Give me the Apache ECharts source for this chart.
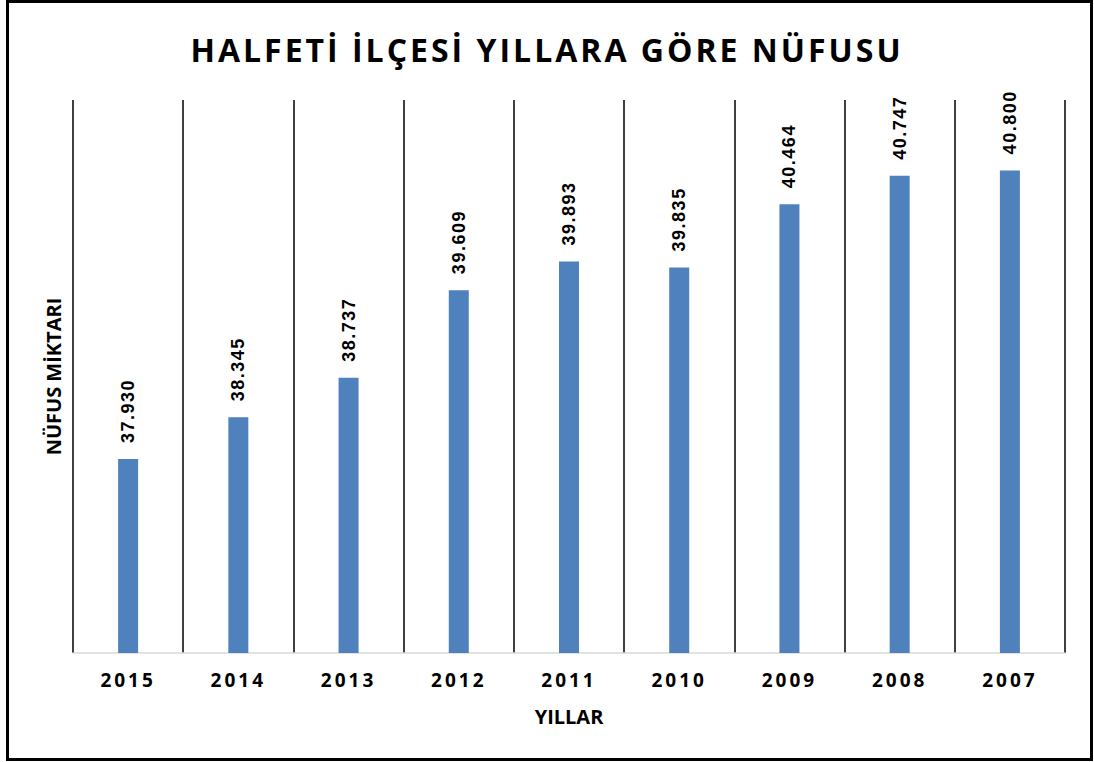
<!DOCTYPE html>
<html>
<head>
<meta charset="utf-8">
<script src="https://cdn.jsdelivr.net/npm/echarts@6/dist/echarts.min.js"></script>
<style>
    html, body { margin: 0; padding: 0; background: #fff; }
    #main { width: 1094px; height: 762px; }
    /* letter spacing for title, year labels and value labels (svg renderer) */
    #main text[style*="32px"] { letter-spacing: 3px; }
    #main text[style*="Open Sans"][style*="19px"] { letter-spacing: 3px; }
    #main text[style*="Liberation"] { letter-spacing: 1.5px; }
</style>
</head>
<body>
<div id="main"></div>
<script>
var years = ['2015', '2014', '2013', '2012', '2011', '2010', '2009', '2008', '2007'];
var population = [37930, 38345, 38737, 39609, 39893, 39835, 40464, 40747, 40800];
var titleText = 'HALFETİ İLÇESİ YILLARA GÖRE NÜFUSU';

function chart() {
    var myChart = echarts.init(document.getElementById('main'), null, {renderer: 'svg'});
    var option = {
        backgroundColor: '#fff',
        animation: false,
        title: {
            text: titleText,
            left: 'center',
            top: 28,
            textStyle: {
                fontFamily: 'Open Sans',
                fontWeight: 'bold',
                fontSize: 32,
                color: '#000'
            }
        },
        graphic: [{
            type: 'rect',
            shape: {x: 7.5, y: 1.5, width: 1084, height: 758},
            style: {fill: 'none', stroke: '#000', lineWidth: 3},
            silent: true
        }],
        grid: {
            left: 73,
            right: 29,
            top: 100,
            bottom: 109
        },
        xAxis: {
            type: 'category',
            data: years,
            name: 'YILLAR',
            nameLocation: 'middle',
            nameGap: 53,
            nameTextStyle: {
                fontFamily: 'Open Sans',
                fontWeight: 'bold',
                fontSize: 20,
                color: '#000'
            },
            axisLine: {lineStyle: {color: '#d9d9d9', width: 1.5}},
            axisTick: {show: false},
            axisLabel: {
                margin: 17,
                fontFamily: 'Open Sans',
                fontWeight: 'bold',
                fontSize: 19,
                color: '#000'
            },
            splitLine: {
                show: true,
                lineStyle: {color: '#000', width: 1.5}
            }
        },
        yAxis: {
            type: 'value',
            min: 36000,
            max: 41500,
            name: 'NÜFUS MİKTARI',
            nameLocation: 'middle',
            nameGap: 10,
            nameTextStyle: {
                fontFamily: 'Open Sans',
                fontWeight: 'bold',
                fontSize: 20,
                color: '#000'
            },
            axisLine: {show: false},
            axisTick: {show: false},
            axisLabel: {show: false},
            splitLine: {show: false}
        },
        series: [{
            name: 'Nüfus',
            type: 'bar',
            data: population,
            barWidth: 20,
            itemStyle: {color: '#4f81bd'},
            label: {
                show: true,
                position: 'top',
                distance: 16,
                rotate: 90,
                align: 'left',
                verticalAlign: 'middle',
                fontFamily: 'Liberation Sans',
                fontWeight: 'bold',
                fontSize: 18,
                color: '#000',
                formatter: function (p) {
                    return p.value.toString().replace(/\B(?=(\d{3})+(?!\d))/g, '.');
                }
            }
        }]
    };
    myChart.setOption(option);
}
chart();
</script>
</body>
</html>
